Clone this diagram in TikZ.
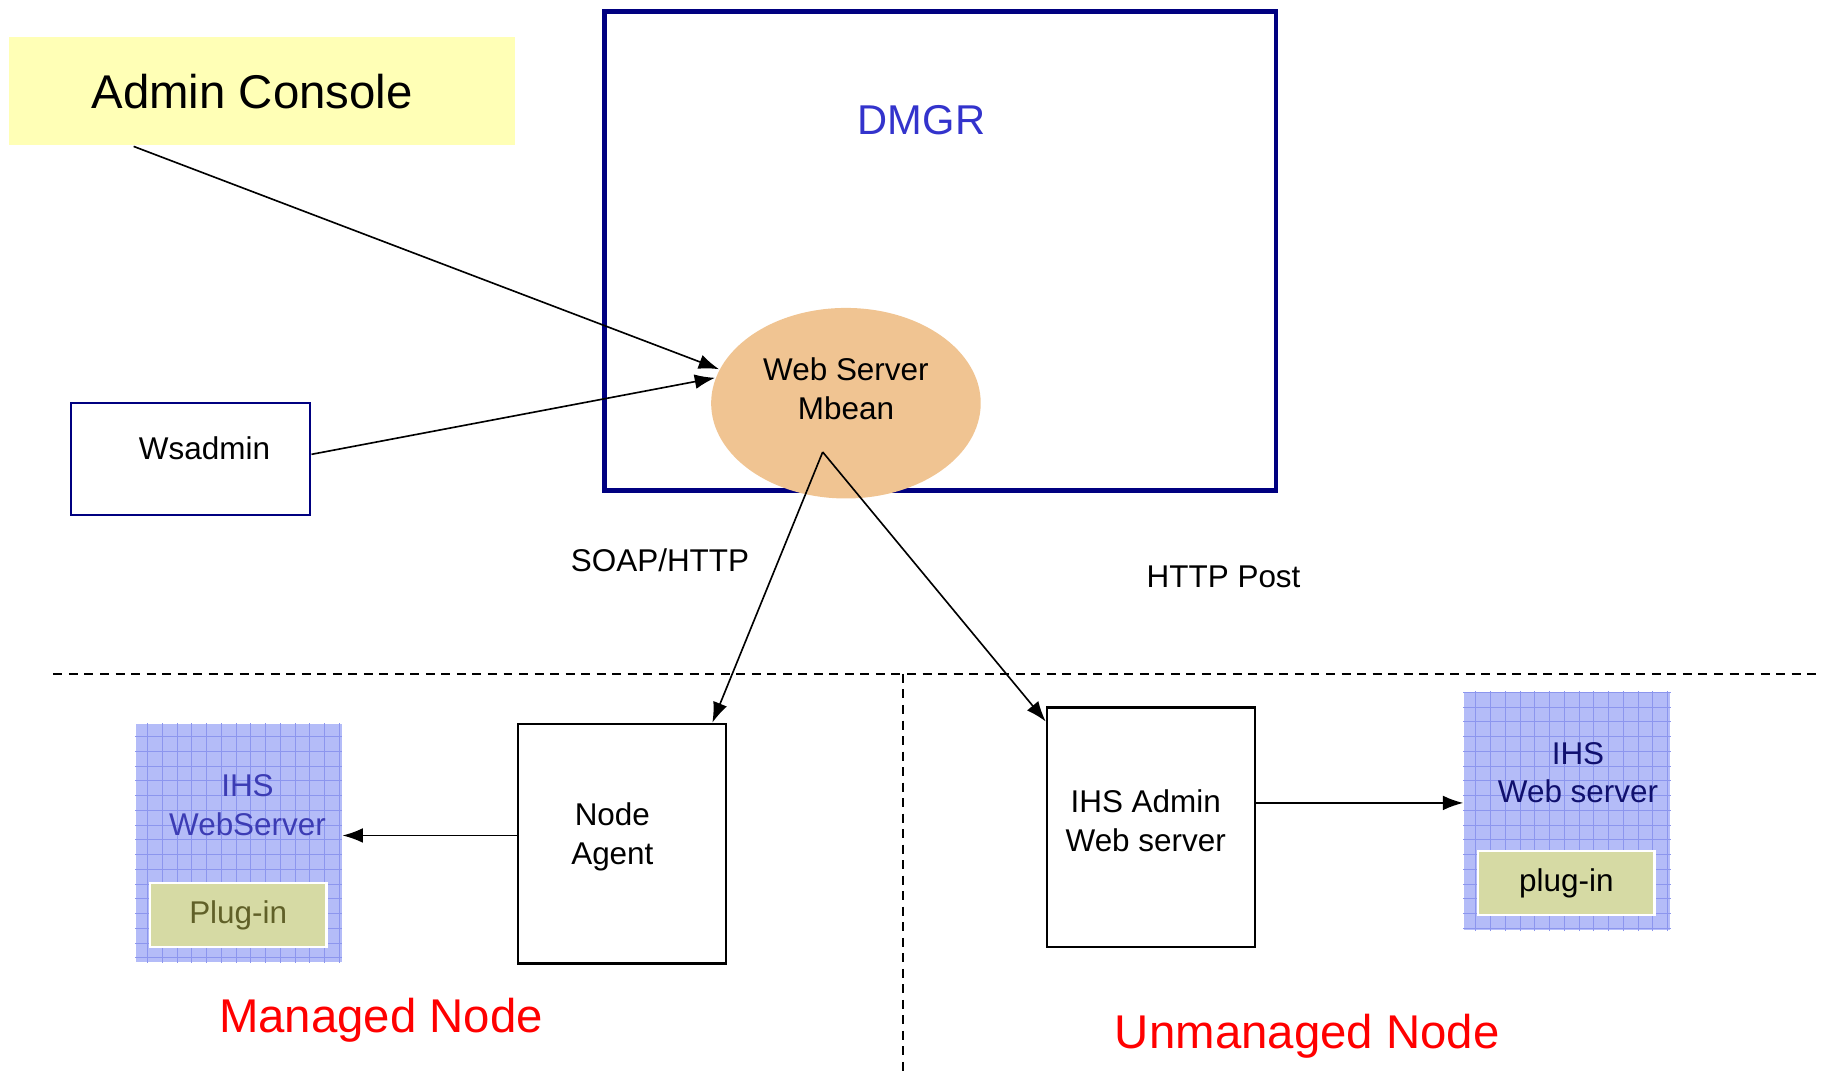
\documentclass[tikz,border=0pt]{standalone}
\usepackage{fontspec}
\setmainfont{Liberation Sans}
\usetikzlibrary{shapes.geometric,arrows.meta}

\definecolor{dmgrnavy}{RGB}{0,0,128}
\definecolor{dmgrtext}{RGB}{51,51,204}
\definecolor{acyellow}{RGB}{255,255,182}
\definecolor{mbeanfill}{RGB}{240,196,146}
\definecolor{ihsblue}{RGB}{180,188,248}
\definecolor{ihsgrid}{RGB}{140,150,238}
\definecolor{plugfill}{RGB}{214,218,164}
\definecolor{ihstextm}{RGB}{60,60,180}
\definecolor{ihstextu}{RGB}{16,16,110}
\definecolor{plugtext}{RGB}{96,96,40}
\definecolor{nodered}{RGB}{255,0,0}

\begin{document}
\begin{tikzpicture}[
    lbl/.style={font=\fontsize{7.7}{9.5}\selectfont, align=center},
    big/.style={font=\fontsize{11.6}{13}\selectfont},
    box/.style={draw, line width=0.6pt, minimum width=1.79cm, minimum height=2.06cm, inner sep=0pt},
    ihs/.style={fill=ihsblue, minimum width=1.77cm, minimum height=2.05cm, inner sep=0pt},
    plug/.style={draw=white, line width=0.6pt, fill=plugfill, minimum width=1.52cm, minimum height=0.55cm, inner sep=0pt},
    arr/.style={-{Latex[length=5pt,width=3.6pt]}, line width=0.4pt},
    sep/.style={dash pattern=on 2.2pt off 1.6pt, line width=0.4pt}]

        \useasboundingbox (0,0) rectangle (15.68,9.26);

        % top part
        \node[fill=acyellow, minimum width=4.35cm, minimum height=0.93cm] (AC) at (2.255,8.475) {};
        \node[big] (aclbl) at (2.17,8.47) {Admin Console};
        \coordinate (acout) at (1.15,8.00);

        \node[draw=dmgrnavy, line width=1.15pt, minimum width=5.78cm, minimum height=4.12cm] (DMGR) at (8.09,7.10) {};
        \node[text=dmgrtext, font=\fontsize{10.2}{12}\selectfont] (dmgrlbl) at (7.93,8.23) {DMGR};

        \node[ellipse, fill=mbeanfill, minimum width=2.32cm, minimum height=1.64cm, inner sep=0pt] (WSM) at (7.28,5.79) {};
        \node[lbl] (wsmlbl) at (7.28,5.915) {Web Server\\Mbean};
        \coordinate (mbin) at (7.08,5.37);

        \node[draw=dmgrnavy, line width=0.6pt, minimum width=2.06cm, minimum height=0.96cm] (WS) at (1.64,5.31) {};
        \node[lbl] (wslbl) at (1.76,5.40) {Wsadmin};

        \path [arr] (acout) edge (WSM.165);
        \path [arr] ([yshift=0.04cm]WS.east) edge (WSM.169);

        \node[lbl] (soap) at (5.68,4.44) {SOAP/HTTP};
        \node[lbl] (post) at (10.53,4.30) {HTTP Post};

        % separators
        \coordinate (sepL) at (0.46,3.46);
        \coordinate (sepR) at (15.68,3.46);
        \coordinate (sepT) at (7.77,3.46);
        \coordinate (sepB) at (7.77,0);
        \draw[sep] (sepL) -- (sepR);
        \draw[sep] (sepT) -- (sepB);

        % managed node
        \node[box] (NA) at (5.355,2.00) {};
        \node[lbl] (nalbl) at (5.27,2.06) {Node\\Agent};
        \node[ihs] (IHSm) at (2.055,2.005) {};
        \draw[ihsgrid, line width=0.25pt, step=0.127] (IHSm.south west) grid (IHSm.north east);
        \node[lbl, text=ihstextm] (ihsmlbl) at (2.13,2.33) {IHS\\WebServer};
        \node[plug, lbl, text=plugtext] (PLm) at (2.05,1.385) {Plug-in};
        \node[text=nodered, big] (mnode) at (3.28,0.48) {Managed Node};

        \path [arr] (mbin) edge ([xshift=-0.13cm]NA.north east);
        \path [arr] ([yshift=0.07cm]NA.west) edge ([yshift=0.07cm]NA.west -| IHSm.east);

        % unmanaged node
        \node[box] (IA) at (9.905,2.14) {};
        \node[lbl] (ialbl) at (9.86,2.20) {IHS Admin\\Web server};
        \node[ihs] (IHSu) at (13.485,2.28) {};
        \draw[ihsgrid, line width=0.25pt, step=0.127] (IHSu.south west) grid (IHSu.north east);
        \node[lbl, text=ihstextu] (ihsulbl) at (13.58,2.61) {IHS\\Web server};
        \node[plug, lbl] (PLu) at (13.48,1.66) {plug-in};
        \node[text=nodered, big] (unode) at (11.25,0.34) {Unmanaged Node};

        \path [arr] (mbin) edge ([yshift=-0.13cm]IA.north west);
        \path [arr] ([yshift=0.21cm]IA.east) edge ([yshift=0.21cm]IA.east -| IHSu.west);

\end{tikzpicture}
\end{document}
